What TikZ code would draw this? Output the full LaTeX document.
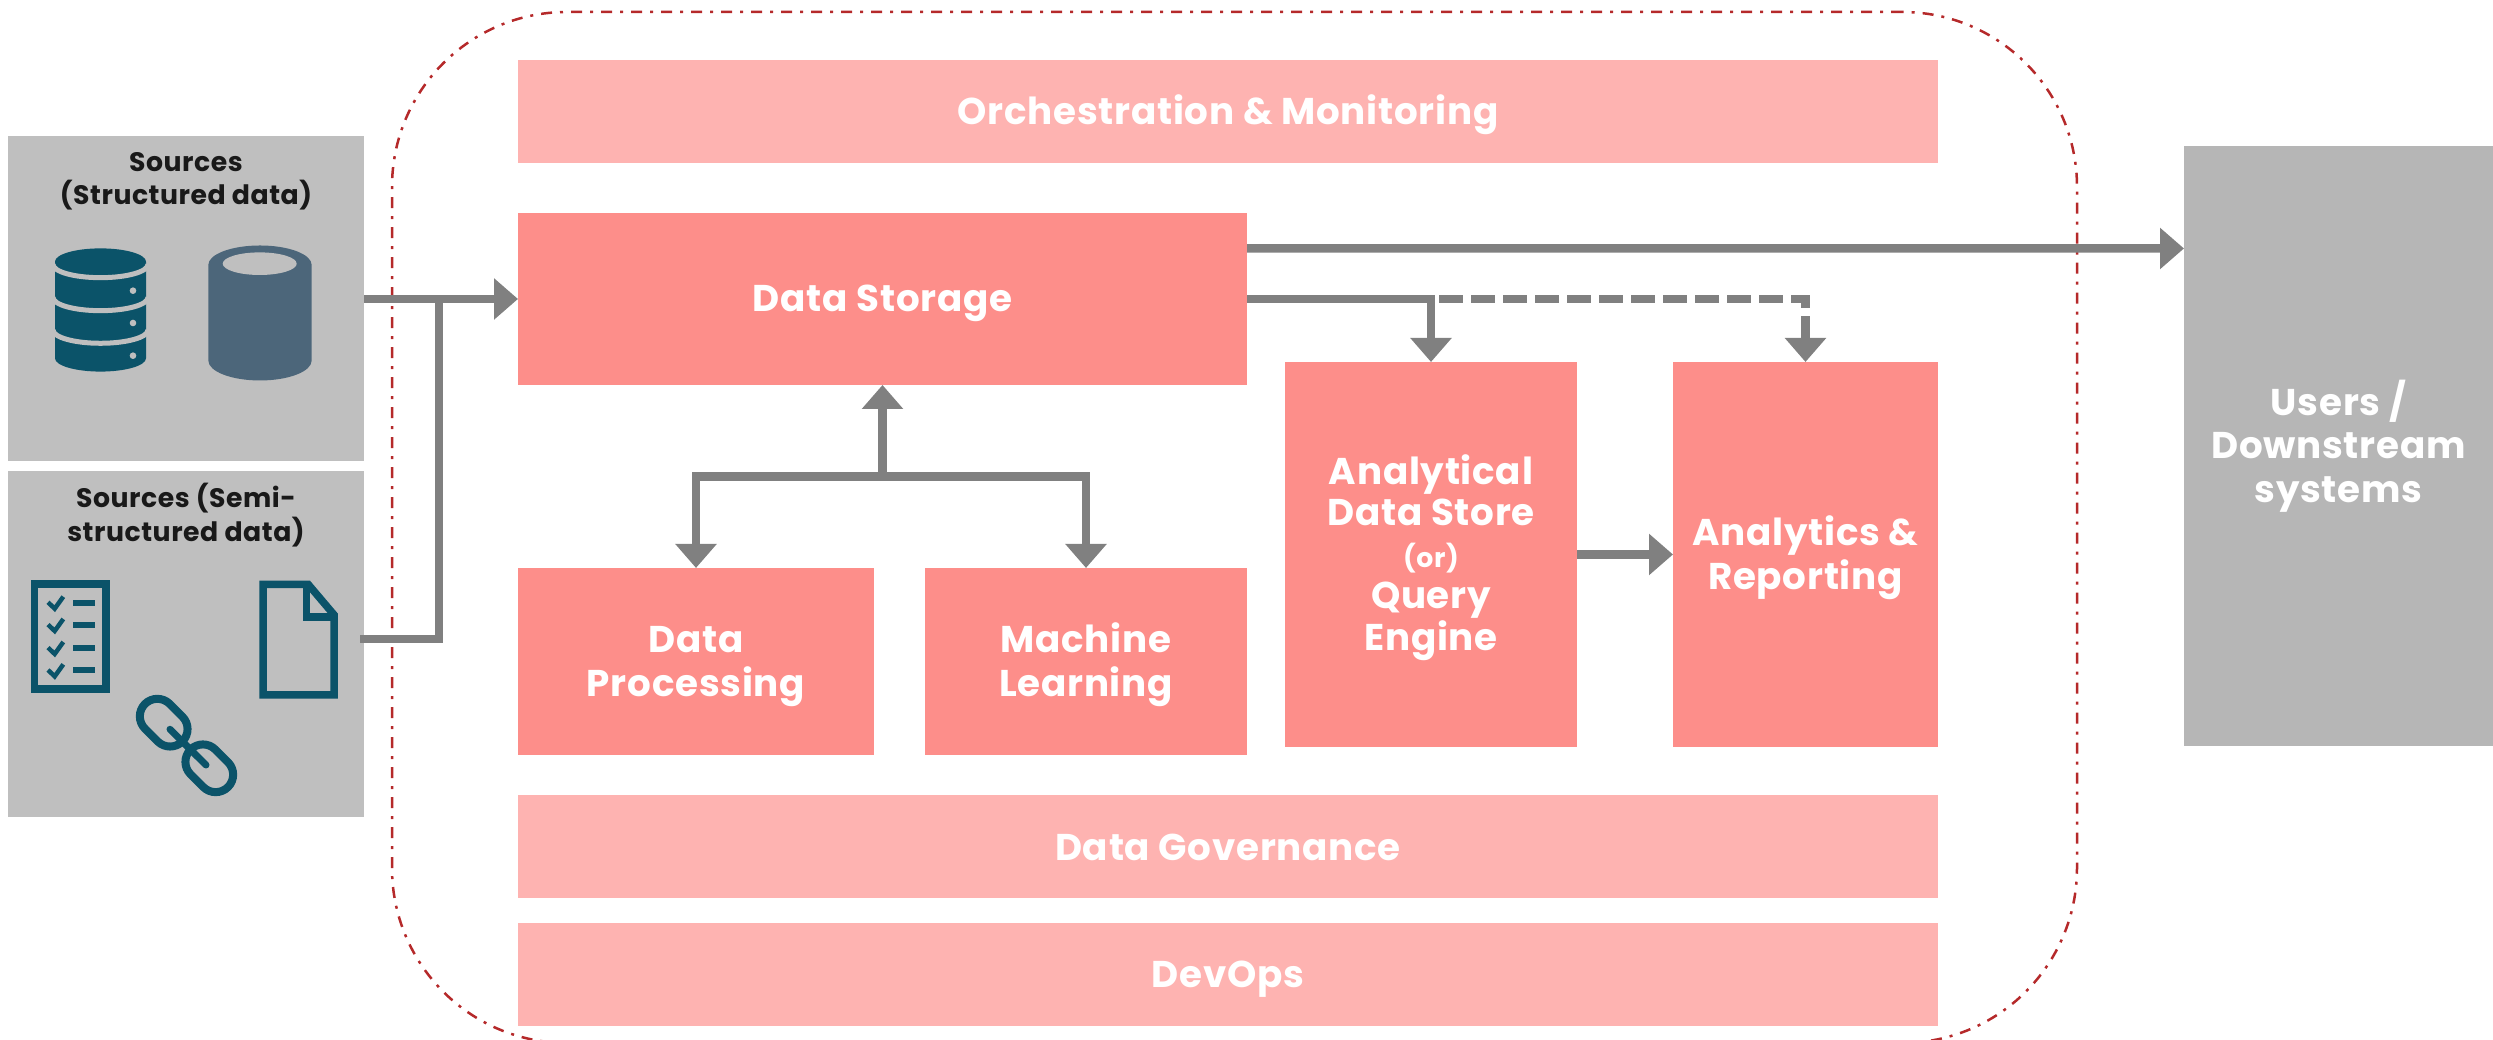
\documentclass[tikz,border=0pt]{standalone}
\usepackage{fontspec}
\setmainfont{Poppins}[LetterSpace=2]
\usepackage{tikz}
\usetikzlibrary{arrows.meta}
\definecolor{deep}{HTML}{FD8E8A}
\definecolor{pale}{HTML}{FEB3B1}
\definecolor{stone}{HTML}{BFBFBF}
\definecolor{slate}{HTML}{B6B6B6}
\definecolor{pipecol}{HTML}{808080}
\definecolor{hullcol}{HTML}{B5292A}
\definecolor{teal}{HTML}{0B5369}
\definecolor{steel}{HTML}{4C667A}
\newcommand{\lift}{\rule{0pt}{10.2pt}}

\begin{document}
\begin{tikzpicture}[
                      box/.style = {inner sep = 0pt, outer sep = 0pt, align = center, text = white, font = \bfseries\fontsize{10.6}{12.4}\selectfont},
                      level/.style = {execute at begin node = {\rule{0pt}{10.2pt}}, execute at end node = {\rule[-2.5pt]{0pt}{0pt}}},
                      deepbox/.style = {box, level, fill = deep},
                      palebox/.style = {box, level, fill = pale},
                      source/.style = {box, fill = stone},
                      tag/.style = {inner sep = 0pt, align = center, text = black!90, font = \bfseries\fontsize{7.6}{9.5}\selectfont},
                      hull/.style = {inner sep = 0pt, outer sep = 0pt, draw = hullcol, line width = 0.025cm, rounded corners = 1.75cm, dash pattern = on 0.11cm off 0.08cm on 0.03cm off 0.08cm},
                      pipe/.style = {draw = pipecol, line width = 0.085cm},
                      flow/.style = {pipe, -{Triangle[length = 0.24cm, width = 0.40cm]}},
                      icon/.style = {draw = teal, line width = 0.075cm},
                      tick/.style = {draw = teal, line width = 0.045cm},
                      bar/.style = {draw = teal, line width = 0.06cm},
                      gapline/.style = {draw = stone, line width = 0.05cm}]
    \useasboundingbox (0, 0) rectangle (24.93, 10.40);

    \node [hull, minimum width = 16.85cm, minimum height = 10.31cm] (outline) at (12.345, 5.125){};

    \node [source, minimum width = 3.56cm, minimum height = 3.25cm] (srcA) at (1.86, 7.41){};
    \node [source, minimum width = 3.56cm, minimum height = 3.46cm] (srcB) at (1.86, 3.96){};
    \node [tag] (srcAtag) at (1.86, 8.59){Sources\\(Structured data)};
    \node [tag] (srcBtag) at (1.86, 5.25){Sources (Semi-\\structured data)};

    \node [palebox, minimum width = 14.20cm, minimum height = 1.03cm] (orch) at (12.28, 9.285){Orchestration \& Monitoring};
    \node [deepbox, minimum width = 7.29cm, minimum height = 1.72cm] (storage) at (8.825, 7.41){Data Storage};
    \node [deepbox, minimum width = 3.56cm, minimum height = 1.87cm] (proc) at (6.96, 3.785){\lift Data\\Processing};
    \node [deepbox, minimum width = 3.22cm, minimum height = 1.87cm] (learn) at (10.86, 3.785){\lift Machine\\Learning};
    \node [deepbox, font = \bfseries\fontsize{10.6}{11.8}\selectfont, minimum width = 2.92cm, minimum height = 3.85cm] (adstore) at (14.31, 4.855){\lift Analytical\\Data Store\\{\fontsize{7.6}{8}\selectfont (or)}\\Query\\Engine};
    \node [deepbox, minimum width = 2.65cm, minimum height = 3.85cm] (report) at (18.055, 4.855){\lift Analytics \&\\Reporting};
    \node [palebox, minimum width = 14.20cm, minimum height = 1.03cm] (gov) at (12.28, 1.935){Data Governance};
    \node [palebox, minimum width = 14.20cm, minimum height = 1.03cm] (devops) at (12.28, 0.655){DevOps};
    \node [box, level, fill = slate, minimum width = 3.09cm, minimum height = 6.00cm] (users) at (23.385, 5.94){Users /\\Downstream\\systems};

    \coordinate (outB) at (3.60, 4.01);
    \coordinate (joinB) at (4.39, 7.41);
    \coordinate (split) at (8.825, 5.633);
    \coordinate (turn) at (14.31, 7.41);

    \draw [flow] (srcA) -- (storage);
    \draw [pipe] (outB) -| (joinB);
    \draw [flow] ([yshift = 0.505cm]storage.east) -- ([yshift = 1.975cm]users.west);
    \draw [flow] (storage.east) -| (adstore);
    \draw [flow, dash pattern = on 0.24cm off 0.08cm, dash phase = 0.24cm] (turn) -| (report);
    \draw [flow] (adstore) -- (report);
    \draw [flow] (split) -- (storage);
    \draw [flow] (split) -| (proc);
    \draw [flow] (split) -| (learn);

    \fill [teal] (0.55, 7.783) arc (180:0:0.455 and 0.133) -- (1.46, 6.817) arc (0:-180:0.455 and 0.133) -- cycle;
    \draw [gapline] (0.53, 7.756) arc (180:360:0.475 and 0.133);
    \draw [gapline] (0.53, 7.426) arc (180:360:0.475 and 0.133);
    \draw [gapline] (0.53, 7.100) arc (180:360:0.475 and 0.133);
    \fill [stone] (1.33, 7.493) circle (0.033);
    \fill [stone] (1.33, 7.170) circle (0.033);
    \fill [stone] (1.33, 6.843) circle (0.033);

    \fill [steel] (2.083, 7.75) arc (180:0:0.517 and 0.195) -- (3.117, 6.795) arc (0:-180:0.517 and 0.20) -- cycle;
    \fill [stone] (2.597, 7.763) ellipse (0.37 and 0.113);

    \draw [icon] (0.345, 4.56) rectangle (1.06, 3.51);
    \draw [tick] (0.48, 4.377) -- (0.547, 4.313) -- (0.633, 4.433);
    \draw [tick] (0.48, 4.154) -- (0.547, 4.090) -- (0.633, 4.210);
    \draw [tick] (0.48, 3.924) -- (0.547, 3.860) -- (0.633, 3.980);
    \draw [tick] (0.48, 3.700) -- (0.547, 3.636) -- (0.633, 3.756);
    \draw [bar] (0.73, 4.373) -- (0.95, 4.373);
    \draw [bar] (0.73, 4.150) -- (0.95, 4.150);
    \draw [bar] (0.73, 3.920) -- (0.95, 3.920);
    \draw [bar] (0.73, 3.700) -- (0.95, 3.700);

    \draw [icon] (2.63, 4.555) -- (3.083, 4.555) -- (3.34, 4.252) -- (3.34, 3.45) -- (2.63, 3.45) -- cycle;
    \draw [icon] (3.065, 4.56) -- (3.065, 4.23) -- (3.34, 4.23);

    \draw [icon, line width = 0.08cm, rounded corners = 0.175cm, shift = {(1.637, 3.173)}, rotate = -45] (-0.265, -0.175) rectangle (0.265, 0.175);
    \draw [icon, line width = 0.08cm, rounded corners = 0.175cm, shift = {(2.093, 2.717)}, rotate = -45] (-0.265, -0.175) rectangle (0.265, 0.175);
    \draw [icon, line width = 0.07cm, line cap = round] (1.70, 3.107) -- (2.06, 2.75);
\end{tikzpicture}
\end{document}
